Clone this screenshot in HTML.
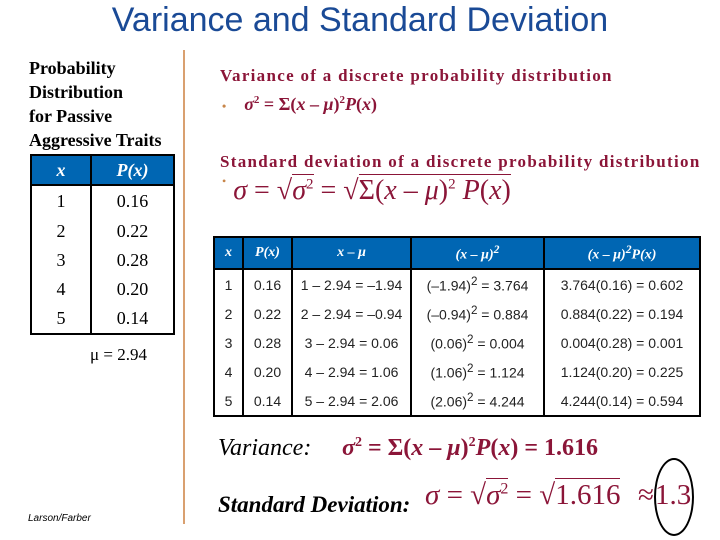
<!DOCTYPE html>
<html><head><meta charset="utf-8">
<style>
body{margin:0;width:720px;height:540px;background:#fff;position:relative;overflow:hidden;font-family:"Liberation Sans",sans-serif}
.a{position:absolute;white-space:nowrap}
.serif{font-family:"Liberation Serif",serif}
.m{color:#8b1538}
table{border-collapse:collapse;position:absolute}
td,th{border:2px solid #000;text-align:center;padding:0}
th{background:#0066b3;color:#fff;font-family:"Liberation Serif",serif;font-style:italic;font-weight:bold}
#lt td{font-family:"Liberation Serif",serif;font-size:18px;height:28px;border-top:none;border-bottom:none}
#lt th{font-size:18px;height:28px}
#rt td{font-size:14px;height:29px;color:#222;border-top:none;border-bottom:none}
#rt th{font-size:14px;height:30px}
</style></head><body>
<div class="a" style="left:0;width:720px;text-align:center;top:1px;font-size:34px;color:#1a4a96">Variance and Standard Deviation</div>
<div class="a serif" style="left:29px;top:56px;font-size:18px;font-weight:bold;line-height:24px">Probability<br>Distribution<br>for Passive<br>Aggressive Traits</div>
<div class="a" style="left:183px;top:50px;width:2px;height:474px;background:#d9a070"></div>

<table id="lt" style="left:30px;top:154px;width:145px">
<tr><th style="width:58px">x</th><th>P(x)</th></tr>
<tr><td style="height:31px">1</td><td>0.16</td></tr>
<tr><td style="height:29px">2</td><td>0.22</td></tr>
<tr><td style="height:29px">3</td><td>0.28</td></tr>
<tr><td style="height:29px">4</td><td>0.20</td></tr>
<tr><td style="border-bottom:2px solid #000;height:29px">5</td><td style="border-bottom:2px solid #000">0.14</td></tr>
</table>
<div class="a serif" style="left:90px;top:345px;font-size:17px">μ = 2.94</div>

<div class="a serif m" style="left:220px;top:66px;font-size:17px;font-weight:bold;letter-spacing:1.3px">Variance of a discrete probability distribution</div>
<div class="a serif m" style="left:222px;top:94px;font-size:18px;font-weight:bold"><span style="color:#c8864a;font-size:12px">•</span>&nbsp;&nbsp;&nbsp;&nbsp;<i>σ</i><sup style="font-size:11px">2</sup> = Σ(<i>x</i> – <i>μ</i>)<sup style="font-size:11px">2</sup><i>P</i>(<i>x</i>)</div>
<div class="a serif m" style="left:220px;top:152px;font-size:17px;font-weight:bold;letter-spacing:1.3px">Standard deviation of a discrete probability distribution</div>
<div class="a serif m" style="left:222px;top:174px;font-size:28px"><span style="color:#c8864a;font-size:12px;vertical-align:top">•</span> <i>σ</i> = √<span style="border-top:1px solid #8b1538"><i>σ</i><sup style="font-size:15px">2</sup></span> = √<span style="border-top:1px solid #8b1538">Σ(<i>x</i> – <i>μ</i>)<sup style="font-size:15px">2</sup> <i>P</i>(<i>x</i>)</span></div>

<table id="rt" style="left:213px;top:236px;width:488px">
<tr><th style="width:27px">x</th><th style="width:47px">P(x)</th><th style="width:117px">x – μ</th><th style="width:131px">(x – μ)<sup>2</sup></th><th>(x – μ)<sup>2</sup>P(x)</th></tr>
<tr><td>1</td><td>0.16</td><td>1 – 2.94 = –1.94</td><td>(–1.94)<sup>2</sup> = 3.764</td><td>3.764(0.16) = 0.602</td></tr>
<tr><td>2</td><td>0.22</td><td>2 – 2.94 = –0.94</td><td>(–0.94)<sup>2</sup> = 0.884</td><td>0.884(0.22) = 0.194</td></tr>
<tr><td>3</td><td>0.28</td><td>3 – 2.94 = 0.06</td><td>(0.06)<sup>2</sup> = 0.004</td><td>0.004(0.28) = 0.001</td></tr>
<tr><td>4</td><td>0.20</td><td>4 – 2.94 = 1.06</td><td>(1.06)<sup>2</sup> = 1.124</td><td>1.124(0.20) = 0.225</td></tr>
<tr><td style="border-bottom:2px solid #000">5</td><td style="border-bottom:2px solid #000">0.14</td><td style="border-bottom:2px solid #000">5 – 2.94 = 2.06</td><td style="border-bottom:2px solid #000">(2.06)<sup>2</sup> = 4.244</td><td style="border-bottom:2px solid #000">4.244(0.14) = 0.594</td></tr>
</table>

<div class="a serif" style="left:218px;top:435px;font-size:24px"><i>Variance:</i></div>
<div class="a serif m" style="left:342px;top:435px;font-size:24px;font-weight:bold"><i>σ</i><sup style="font-size:14px">2</sup> = Σ(<i>x</i> – <i>μ</i>)<sup style="font-size:14px">2</sup><i>P</i>(<i>x</i>) = 1.616</div>
<div class="a serif" style="left:218px;top:492px;font-size:23px;font-weight:bold;font-style:italic">Standard Deviation:</div>
<div class="a serif m" style="left:425px;top:479px;font-size:29px"><i>σ</i> = √<span style="border-top:1px solid #8b1538"><i>σ</i><sup style="font-size:16px">2</sup></span> = √<span style="border-top:1px solid #8b1538">1.616</span></div>
<div class="a serif m" style="left:638px;top:479px;font-size:29px">≈</div>
<div class="a serif m" style="left:655px;top:479px;font-size:29px">1.3</div>
<div class="a" style="left:654px;top:458px;width:36px;height:74px;border:2px solid #000;border-radius:50%"></div>
<div class="a" style="left:28px;top:513px;font-size:10px;font-style:italic">Larson/Farber</div>
</body></html>
